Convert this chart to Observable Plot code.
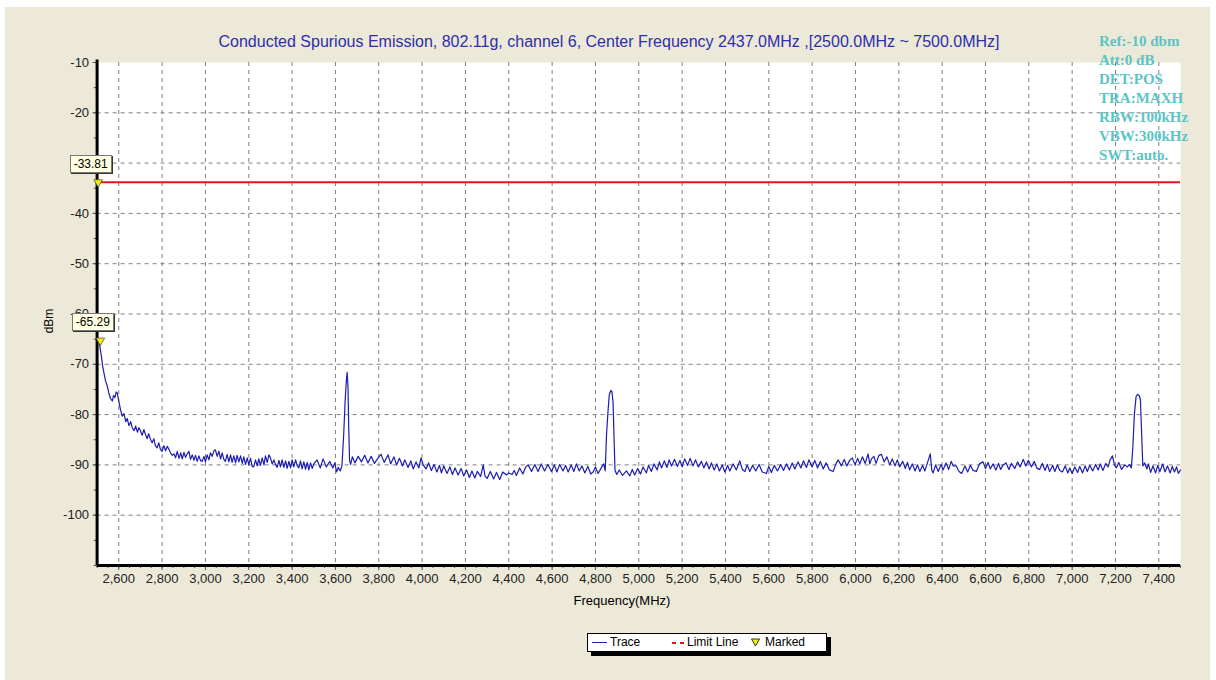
<!DOCTYPE html>
<html><head><meta charset="utf-8">
<script src="https://cdn.jsdelivr.net/npm/d3@7"></script>
<script src="https://cdn.jsdelivr.net/npm/@observablehq/plot@0.6"></script>
<style>
html,body{margin:0;padding:0;background:#fff;}
#wrap{position:relative;width:1216px;height:680px;overflow:hidden;font-family:"Liberation Sans",Arial,sans-serif;}
#panel{position:absolute;left:5px;top:7px;width:1205px;height:673px;background:#ECE9D8;}
#chart{position:absolute;left:0;top:0;}
.t{position:absolute;white-space:nowrap;}
#title{left:0;width:1218px;top:33px;text-align:center;font-size:16px;color:#2e2eae;}
#info{left:1099px;top:32px;font-family:"Liberation Serif","Times New Roman",serif;font-weight:bold;font-size:15px;line-height:19px;color:#5cc4c4;}
#xlab{left:0;width:1244px;text-align:center;top:593px;font-size:13px;color:#000;}
#ylab{left:37px;top:314px;font-size:12px;transform:rotate(-90deg);transform-origin:center;color:#000;}
#legend{left:587px;top:633px;width:238px;height:17px;border:1px solid #000;background:#fff;box-shadow:4px 4px 0 #000;font-size:12px;}
#legend span{position:absolute;top:1px;}
.mk{position:absolute;background:#ffffe1;border:1px solid #777;box-shadow:1px 1px 0 #333;font-size:12px;line-height:16px;padding:0 3px;color:#000;}
</style></head><body>
<div id="wrap"><div id="panel"></div><div id="chart"></div>
<div class="t" id="title"></div>
<div class="t" id="info"></div>
<div class="t" id="xlab"></div>
<div class="t" id="ylab"></div>
<div class="t" id="legend"></div>
</div>
<script>
const titleText = "Conducted Spurious Emission, 802.11g, channel 6, Center Frequency 2437.0MHz ,[2500.0MHz ~ 7500.0MHz]";
const infoLines = ["Ref:-10 dbm","Att:0 dB","DET:POS","TRA:MAXH","RBW:100kHz","VBW:300kHz","SWT:auto."];
const xLabel = "Frequency(MHz)";
const yLabel = "dBm";
const legendLabels = ["Trace","Limit Line","Marked"];
const xTicks = [2600,2800,3000,3200,3400,3600,3800,4000,4200,4400,4600,4800,5000,5200,5400,5600,5800,6000,6200,6400,6600,6800,7000,7200,7400];
const yTicks = [-10,-20,-30,-40,-50,-60,-70,-80,-90,-100];
const yGrid = [-20,-30,-40,-50,-60,-70,-80,-90,-100];
const limitLevel = -33.81;
const markers = [[2505,-33.81],[2515,-65.29]];

const trace = [
[2500,-66.0],[2508,-65.3],[2514,-66.8],[2520,-68.5],[2526,-70.5],[2532,-71.8],[2539,-73.3],[2546,-74.2],[2554,-75.7],[2562,-76.8],[2570,-77.3],[2576,-76.2],[2582,-76.6],[2588,-75.5],[2593,-75.7],[2600,-77.3],[2608,-79.0],[2616,-80.3],[2624,-79.8],[2632,-81.4],[2639,-80.8],[2647,-82.2],[2655,-81.4],[2662,-82.6],[2670,-83.2],[2678,-82.3],[2686,-83.5],[2693,-82.6],[2700,-83.2],[2708,-84.1],[2716,-83.0],[2723,-83.9],[2731,-84.8],[2738,-83.8],[2746,-84.9],[2754,-85.6],[2762,-84.8],[2769,-86.2],[2777,-86.6],[2785,-85.6],[2792,-86.9],[2800,-87.3],[2808,-86.2],[2816,-87.2],[2824,-86.3],[2831,-86.9],[2839,-87.6],[2847,-88.1],[2855,-87.8],[2862,-88.6],[2870,-87.3],[2878,-88.7],[2886,-87.6],[2893,-88.8],[2901,-87.5],[2908,-88.5],[2916,-87.8],[2924,-87.3],[2931,-88.9],[2939,-88.0],[2947,-89.1],[2954,-88.1],[2962,-89.3],[2970,-88.2],[2977,-89.1],[2985,-89.3],[2993,-88.3],
[3000,-89.4],[3008,-88.0],[3016,-89.0],[3023,-87.6],[3031,-88.3],[3039,-87.2],[3046,-87.0],[3054,-88.3],[3062,-87.3],[3070,-88.8],[3077,-87.6],[3085,-88.9],[3092,-89.3],[3100,-87.9],[3108,-89.4],[3116,-88.0],[3123,-89.5],[3131,-88.2],[3139,-89.6],[3146,-88.1],[3154,-89.4],[3162,-88.2],[3170,-89.7],[3177,-88.4],[3185,-89.9],[3193,-88.6],[3200,-90.0],[3208,-88.7],[3216,-90.3],[3223,-90.4],[3231,-89.0],[3239,-90.2],[3246,-88.8],[3254,-90.1],[3262,-88.6],[3270,-90.0],[3277,-88.2],[3285,-89.5],[3293,-88.0],[3300,-88.6],[3308,-89.8],[3316,-89.0],[3323,-89.9],[3331,-90.5],[3339,-89.1],[3346,-90.4],[3354,-89.0],[3362,-90.5],[3370,-89.2],[3377,-90.7],[3385,-89.3],[3393,-90.6],[3400,-89.0],[3408,-90.4],[3416,-89.0],[3423,-90.1],[3431,-90.6],[3439,-89.2],[3446,-90.8],[3454,-89.4],[3462,-90.9],[3470,-89.5],[3477,-91.0],[3485,-89.6],[3493,-90.7],[3500,-89.8],
[3515,-89.0],[3530,-90.6],[3543,-88.8],[3558,-90.4],[3574,-89.3],[3588,-90.6],[3597,-89.6],[3605,-91.4],[3613,-90.5],[3622,-91.2],[3630,-90.2],[3638,-84.0],[3645,-77.0],[3650,-73.5],[3654,-71.6],[3658,-74.5],[3661,-82.0],[3665,-89.0],[3670,-89.9],[3678,-88.4],[3690,-89.6],[3705,-88.3],[3720,-89.4],[3735,-88.1],[3750,-89.6],[3765,-88.3],[3780,-89.7],[3797,-88.6],[3810,-87.9],[3825,-89.5],[3843,-88.0],[3855,-89.8],[3870,-88.4],[3882,-90.0],[3895,-88.7],[3910,-90.2],[3920,-89.0],[3935,-90.5],[3948,-89.2],[3959,-90.8],[3972,-89.4],[3985,-90.6],[3995,-88.6],[4005,-90.0],[4018,-90.8],[4030,-89.6],[4043,-91.1],[4055,-89.9],[4068,-91.4],[4080,-90.1],[4089,-91.6],[4100,-90.2],[4115,-91.7],[4128,-90.4],[4140,-91.9],[4152,-90.6],[4166,-92.0],[4180,-90.7],[4192,-92.2],[4205,-91.0],[4218,-92.5],[4230,-91.2],[4243,-92.6],[4255,-91.3],[4270,-92.3],[4282,-90.0],[4290,-92.2],[4300,-92.7],[4315,-91.3],[4330,-92.8],[4343,-91.5],[4358,-92.9],[4372,-91.4],[4389,-92.0],[4400,-91.6],[4415,-91.9],[4425,-91.1],[4435,-92.1],[4450,-90.6],[4465,-91.8],[4478,-90.4],[4489,-90.0],[4505,-91.3],[4520,-89.9],
[4535,-91.3],[4550,-89.8],[4565,-91.2],[4580,-89.9],[4597,-91.3],[4610,-90.0],[4622,-91.4],[4635,-89.9],[4650,-91.2],[4662,-90.1],[4674,-91.4],[4688,-90.0],[4700,-91.3],[4712,-89.8],[4725,-91.2],[4738,-90.2],[4751,-91.6],[4765,-90.3],[4778,-91.8],[4789,-91.4],[4800,-90.4],[4812,-91.7],[4828,-90.5],[4838,-89.8],[4845,-91.2],[4851,-84.0],[4858,-79.3],[4864,-76.0],[4871,-75.2],[4876,-75.4],[4881,-77.5],[4885,-83.3],[4890,-91.0],[4898,-91.9],[4910,-91.0],[4925,-92.1],[4943,-91.2],[4958,-92.2],[4970,-90.9],[4981,-92.0],[4995,-90.7],[5008,-91.8],[5020,-90.4],[5035,-91.6],[5045,-90.1],[5058,-91.3],[5070,-89.8],[5085,-91.0],[5095,-89.4],[5105,-90.6],[5118,-89.2],[5130,-90.5],[5140,-89.0],[5151,-90.2],[5165,-88.9],[5178,-90.3],[5190,-89.1],[5200,-90.4],[5212,-88.8],[5225,-90.1],[5237,-88.7],[5250,-90.2],[5262,-89.0],[5275,-90.4],[5289,-89.3],[5300,-90.6],[5312,-89.4],[5325,-90.8],[5335,-89.6],[5348,-91.0],[5360,-89.8],[5372,-91.2],[5385,-90.0],[5397,-91.4],[5410,-90.1],[5420,-91.2],[5435,-89.8],[5450,-91.0],[5466,-89.2],[5478,-90.9],[5490,-91.3],[5500,-90.0],[5512,-91.3],[5525,-90.1],[5540,-91.2],
[5555,-89.9],[5570,-91.4],[5589,-91.7],[5600,-90.3],[5612,-91.5],[5625,-90.1],[5640,-91.2],[5655,-89.9],[5668,-91.1],[5681,-89.8],[5695,-91.0],[5708,-89.6],[5720,-90.8],[5735,-89.4],[5748,-90.6],[5760,-89.2],[5774,-90.5],[5785,-89.0],[5800,-90.4],[5812,-89.1],[5825,-90.6],[5838,-89.3],[5851,-90.8],[5865,-89.6],[5880,-91.0],[5897,-91.3],[5910,-89.8],[5920,-89.0],[5935,-90.2],[5948,-88.9],[5960,-90.2],[5973,-89.1],[5985,-88.6],[5998,-90.0],[6010,-88.7],[6020,-89.8],[6032,-88.4],[6045,-89.7],[6058,-87.8],[6066,-89.8],[6074,-88.8],[6085,-88.3],[6095,-89.7],[6108,-88.1],[6120,-87.9],[6132,-89.4],[6145,-88.4],[6158,-90.0],[6170,-88.8],[6182,-90.2],[6193,-89.0],[6204,-90.4],[6218,-89.3],[6230,-90.7],[6240,-89.5],[6250,-91.0],[6262,-89.8],[6275,-91.2],[6286,-90.0],[6297,-91.3],[6310,-90.1],[6320,-91.2],[6330,-89.9],[6345,-87.8],[6352,-91.0],[6358,-91.6],[6370,-90.0],[6382,-91.3],[6395,-89.9],[6404,-91.0],[6418,-89.6],[6430,-90.9],[6442,-89.3],[6451,-90.2],[6465,-90.2],[6478,-91.3],[6490,-91.7],[6505,-90.2],[6518,-91.4],[6530,-90.1],[6543,-91.1],
[6558,-91.3],[6572,-89.8],[6589,-89.4],[6600,-90.7],[6612,-89.5],[6622,-90.8],[6635,-89.8],[6648,-91.0],[6660,-89.7],[6670,-90.9],[6681,-90.0],[6695,-89.6],[6708,-90.9],[6720,-89.7],[6735,-90.7],[6748,-89.4],[6760,-90.4],[6774,-88.9],[6786,-90.2],[6798,-89.1],[6812,-90.4],[6825,-89.3],[6838,-90.7],[6850,-90.9],[6862,-89.7],[6875,-91.1],[6885,-89.9],[6896,-91.3],[6910,-90.1],[6920,-91.3],[6932,-90.0],[6943,-91.1],[6955,-91.4],[6968,-90.2],[6980,-91.6],[6989,-90.6],[7000,-91.7],[7012,-90.4],[7025,-91.5],[7035,-90.3],[7048,-91.6],[7060,-90.2],[7070,-91.3],[7081,-90.1],[7095,-91.2],[7108,-89.9],[7120,-91.0],[7130,-89.8],[7142,-91.1],[7155,-89.7],[7166,-90.4],[7175,-89.0],[7186,-88.2],[7195,-90.0],[7204,-90.6],[7215,-89.5],[7228,-90.9],[7243,-90.0],[7255,-90.4],[7265,-89.9],[7273,-90.6],[7280,-86.6],[7287,-80.0],[7295,-76.4],[7302,-76.0],[7309,-76.2],[7315,-77.0],[7320,-83.0],[7326,-90.2],[7335,-89.6],[7345,-90.8],[7352,-89.8],[7362,-91.5],[7373,-90.2],[7385,-91.6],[7395,-90.1],[7405,-91.3],[7418,-89.8],[7428,-91.4],[7440,-90.2],[7452,-91.6],[7462,-90.3],[7472,-91.4],[7482,-90.4],[7490,-91.7],[7500,-91.0]
];

const traceData = trace.map(([f, v]) => ({f, v}));
const markerData = markers.map(([f, v]) => ({f, v}));
const xMinor = d3.range(2500, 7501, 50);
const yMinor = d3.range(-110, -9, 5);

const chart = Plot.plot({
  width: 1216, height: 680,
  marginLeft: 96.6, marginRight: 36, marginTop: 62, marginBottom: 115,
  x: {domain: [2500, 7500]},
  y: {domain: [-110, -10]},
  style: {background: "transparent", fontFamily: "Liberation Sans, Arial, sans-serif", fontSize: "13px", color: "#000", overflow: "visible"},
  marks: [
    Plot.frame({fill: "#fff", stroke: "none"}),
    Plot.ruleX(xTicks, {stroke: "#808080", strokeDasharray: "4,4", strokeWidth: 1}),
    Plot.ruleY(yGrid, {stroke: "#808080", strokeDasharray: "4,4", strokeWidth: 1}),
    Plot.axisX(xMinor, {tickSize: 3, tickFormat: () => "", label: null, stroke: "#555"}),
    Plot.axisX(xTicks, {tickSize: 5, tickPadding: 3, tickFormat: d3.format(","), label: null, stroke: "#555", fill: "#222"}),
    Plot.axisY(yMinor, {tickSize: 3, tickFormat: () => "", label: null, stroke: "#555"}),
    Plot.axisY(yTicks, {tickSize: 4, tickPadding: 4, tickFormat: d => `${d}`, label: null, stroke: "#555", fill: "#222"}),
    Plot.ruleY([limitLevel], {stroke: "#e3141c", strokeWidth: 2}),
    Plot.line(traceData, {x: "f", y: "v", stroke: "#1c1cb0", strokeWidth: 1.2}),
    Plot.ruleX([2500], {stroke: "#000", strokeWidth: 3, y1: -110, y2: -9.5}),
    Plot.ruleY([-110], {stroke: "#000", strokeWidth: 3}),
    Plot.dot(markerData, {x: "f", y: "v", symbol: "triangle", rotate: 180, r: 3.2, fill: "#f2f200", stroke: "#555", strokeWidth: 0.8})
  ]
});
document.getElementById("chart").appendChild(chart);

document.getElementById("title").textContent = titleText;
document.getElementById("info").innerHTML = infoLines.map(s => `<div>${s}</div>`).join("");
document.getElementById("xlab").textContent = xLabel;
document.getElementById("ylab").textContent = yLabel;

const lg = document.getElementById("legend");
lg.innerHTML =
  `<span style="left:4px;top:8px;width:15px;height:0;border-top:1.5px solid #1c1cb0"></span>` +
  `<span style="left:22px">${legendLabels[0]}</span>` +
  `<span style="left:84px;top:8px;width:4px;border-top:2px solid #e3141c"></span>` +
  `<span style="left:92px;top:8px;width:4px;border-top:2px solid #e3141c"></span>` +
  `<span style="left:99px">${legendLabels[1]}</span>` +
  `<svg style="position:absolute;left:163px;top:4px" width="9" height="9"><path d="M0.5,1 L8.5,1 L4.5,8 Z" fill="#f2f200" stroke="#333" stroke-width="1"/></svg>` +
  `<span style="left:177px">${legendLabels[2]}</span>`;

const sx = chart.scale("x"), sy = chart.scale("y");
const wrap = document.getElementById("wrap");
markers.forEach(([f, v]) => {
  const d = document.createElement("div");
  d.className = "mk";
  d.textContent = v.toFixed(2);
  d.style.left = (sx.apply(f) - 28) + "px";
  d.style.top = (sy.apply(v) - 27) + "px";
  wrap.appendChild(d);
});
</script>
</body></html>
